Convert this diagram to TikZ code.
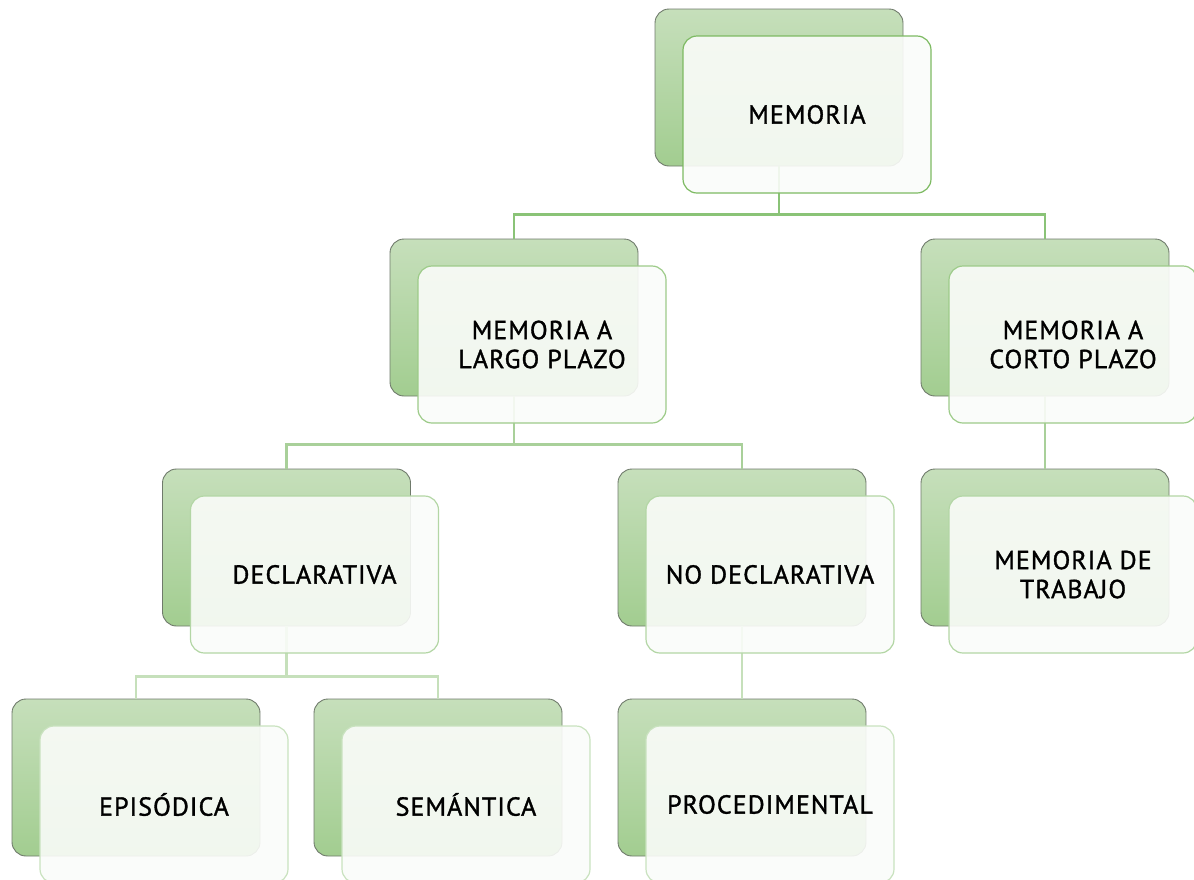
\documentclass[tikz,border=0pt]{standalone}
\usepackage{fontspec}
\setmainfont{PT Sans}[LetterSpace=4, FakeBold=1.3]
\usetikzlibrary{calc}
\definecolor{backtop}{HTML}{C6DFBB}
\definecolor{backbot}{HTML}{A2CD90}
\definecolor{backedge}{HTML}{6F7A6B}
\definecolor{frontfill}{HTML}{FAFCF9}
\definecolor{edgeA}{HTML}{7DBA62}
\definecolor{edgeB}{HTML}{9DCB89}
\definecolor{edgeC}{HTML}{B3D6A5}
\definecolor{edgeD}{HTML}{C9E2BF}
\definecolor{lnA}{HTML}{8AC377}
\definecolor{lnB}{HTML}{A9D09A}
\definecolor{lnC}{HTML}{C6E0BB}
\tikzset{
  backbox/.style={rectangle, rounded corners=14pt, minimum width=248pt, minimum height=157pt,
    top color=backtop, bottom color=backbot, draw=backedge, line width=0.9pt, inner sep=0pt},
  frontbox/.style={rectangle, rounded corners=14pt, minimum width=248pt, minimum height=157pt,
    fill=frontfill, fill opacity=0.9, text opacity=1, line width=1.2pt, inner sep=0pt,
    align=center, font=\fontsize{26}{29}\selectfont, text=black},
  conn/.style={line width=2.2pt}
}
\begin{document}
\begin{tikzpicture}[x=1pt,y=-1pt]
\useasboundingbox (0,0) rectangle (1194,879);
% back boxes
\node[backbox] (mem) at (779,87.5) {};
\node[backbox] (lp) at (514,317.5) {};
\node[backbox] (cp) at (1045,317.5) {};
\node[backbox] (dec) at (286.5,547.5) {};
\node[backbox] (nd) at (742,547.5) {};
\node[backbox] (mt) at (1045,547.5) {};
\node[backbox] (epi) at (136,777.5) {};
\node[backbox] (sem) at (438,777.5) {};
\node[backbox] (pro) at (742,777.5) {};
% connectors
\draw[conn, lnA] (mem.south) -- ++(0,48) coordinate (j1) -| (lp.north);
\draw[conn, lnA] (j1) -| (cp.north);
\draw[conn, lnB] (lp.south) -- ++(0,48) coordinate (j2) -| (dec.north);
\draw[conn, lnB] (j2) -| (nd.north);
\draw[conn, lnB] (cp.south) -- (mt.north);
\draw[conn, lnC] (dec.south) -- ++(0,50) coordinate (j3) -| (epi.north);
\draw[conn, lnC] (j3) -| (sem.north);
\draw[conn, lnC] (nd.south) -- (pro.north);
% front boxes
\node[frontbox, draw=edgeA] (memf) at ($(mem)+(28,27)$) {MEMORIA};
\node[frontbox, draw=edgeB] (lpf) at ($(lp)+(28,27)$) {MEMORIA A\\LARGO PLAZO};
\node[frontbox, draw=edgeB] (cpf) at ($(cp)+(28,27)$) {MEMORIA A\\CORTO PLAZO};
\node[frontbox, draw=edgeC] (decf) at ($(dec)+(28,27)$) {DECLARATIVA};
\node[frontbox, draw=edgeC] (ndf) at ($(nd)+(28,27)$) {NO DECLARATIVA};
\node[frontbox, draw=edgeC] (mtf) at ($(mt)+(28,27)$) {MEMORIA DE\\TRABAJO};
\node[frontbox, draw=edgeD] (epif) at ($(epi)+(28,27)$) {EPISÓDICA};
\node[frontbox, draw=edgeD] (semf) at ($(sem)+(28,27)$) {SEMÁNTICA};
\node[frontbox, draw=edgeD] (prof) at ($(pro)+(28,27)$) {PROCEDIMENTAL};
\end{tikzpicture}
\end{document}
